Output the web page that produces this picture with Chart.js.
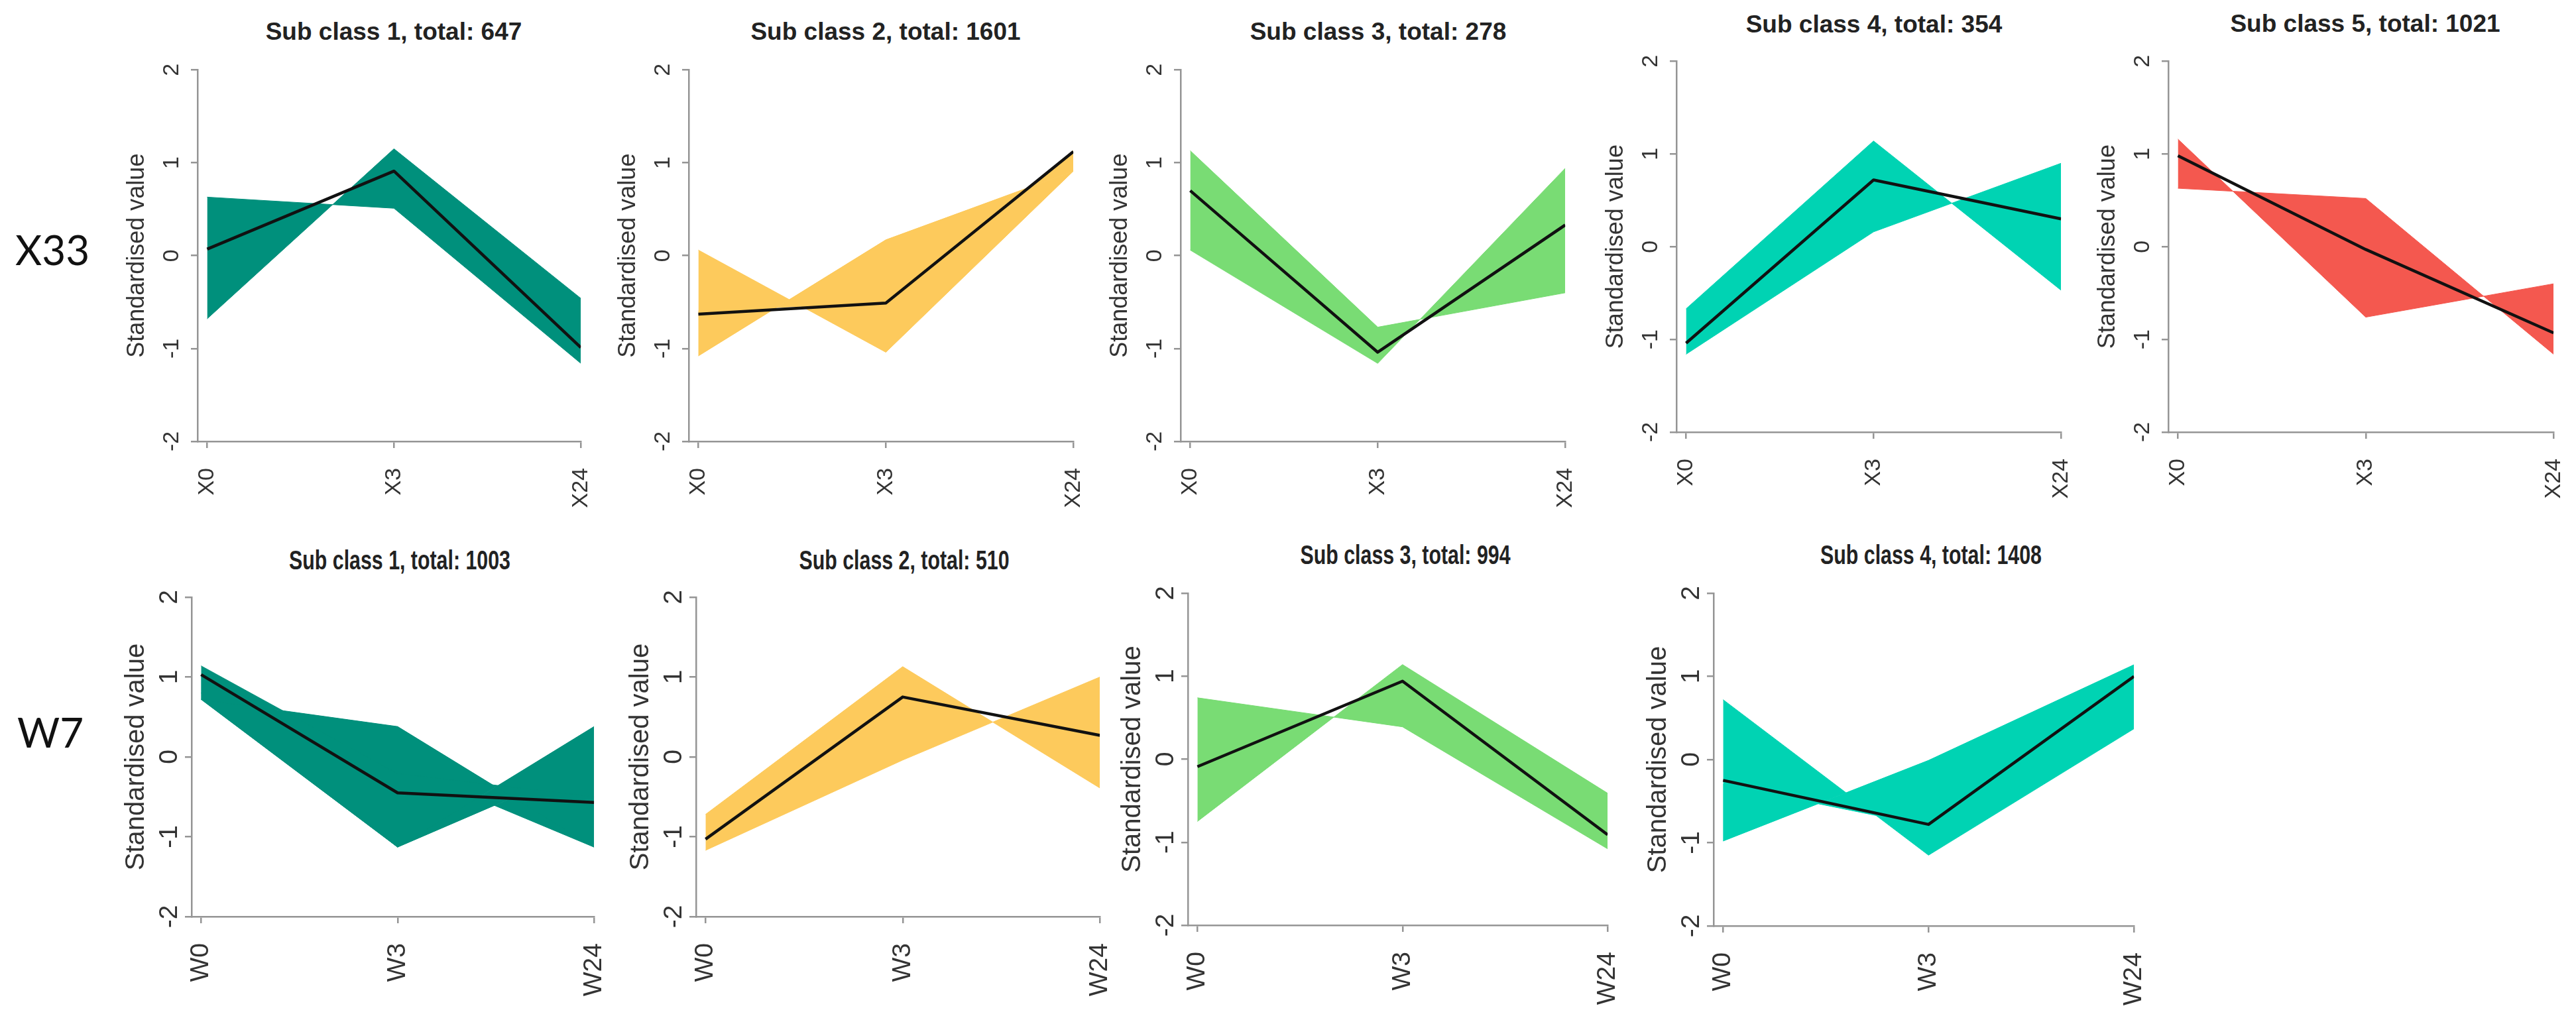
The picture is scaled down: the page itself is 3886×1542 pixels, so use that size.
<!DOCTYPE html>
<html>
<head>
<meta charset="utf-8">
<title>Sub class profiles</title>
<script src="https://cdn.jsdelivr.net/npm/chart.js@4.4.1/dist/chart.umd.min.js"></script>
<style>
  body { margin: 0; width: 3886px; height: 1542px; background: #fff; position: relative; overflow: hidden;
         font-family: "Liberation Sans", Arial, sans-serif; }
  canvas { position: absolute; }
  .title { position: absolute; font-weight: bold; color: #222; white-space: nowrap; line-height: 1; }
  .rowlab { position: absolute; font-family: Lato, "Open Sans", sans-serif; color: #111; line-height: 1; font-size: 62px; }
</style>
</head>
<body>
<script>
// ---- data ----
const x33Times = ['X0', 'X3', 'X24'];
const w7Times = ['W0', 'W3', 'W24'];
const yTicks = [-2, -1, 0, 1, 2];

const x33Totals = [647, 1601, 278, 354, 1021];
const w7Totals = [1003, 510, 994, 1408];

// centroid (black line) of each sub class
const x33Mean1 = [0.07, 0.91, -0.99];
const x33Mean2 = [-0.63, -0.51, 1.12];
const x33Mean3 = [0.70, -1.04, 0.33];
const x33Mean4 = [-1.04, 0.72, 0.30];
const x33Mean5 = [0.98, -0.03, -0.93];
const w7Mean1 = [1.03, -0.45, -0.57];
const w7Mean2 = [-1.03, 0.75, 0.27];
const w7Mean3 = [-0.09, 0.94, -0.91];
const w7Mean4 = [-0.25, -0.78, 1.00];

// extreme member profiles, the band is filled between them
const x33Edges1 = [[0.63, 0.51, -1.16], [-0.68, 1.15, -0.46]];
const x33Edges2 = [[0.06, -1.04, 0.91], [-1.08, 0.17, 0.91], [-0.60, -0.50, 1.13]];
const x33Edges3 = [[1.13, -0.77, -0.40], [0.06, -1.16, 0.94]];
const x33Edges4 = [[-0.67, 1.14, -0.47], [-1.16, 0.16, 0.90]];
const x33Edges5 = [[1.16, -0.76, -0.40], [0.63, 0.52, -1.16]];
const w7Edges1 = [[1.14, -0.21, -0.50], [0.72, 0.38, -1.13], [0.72, -1.13, 0.38], [0.80, -1.13, -0.07], [1.00, -0.10, -1.13]];
const w7Edges2 = [[-0.72, 1.13, -0.39], [-1.17, -0.04, 1.00]];
const w7Edges3 = [[0.74, 0.39, -1.08], [-0.75, 1.14, -0.41]];
const w7Edges4 = [[0.72, -1.15, 0.37], [-0.98, -0.01, 1.14], [-0.30, -0.80, 0.90]];

// ---- styles / layout ----
const bandColors = ['#00907c', '#fdca5c', '#79dc74', '#00d3b3', '#f4584f'];
const FONT = '"Liberation Sans", Arial, sans-serif';
const AXIS = '#959595';

const rows = [
  { times: x33Times, totals: x33Totals,
    means: [x33Mean1, x33Mean2, x33Mean3, x33Mean4, x33Mean5],
    edges: [x33Edges1, x33Edges2, x33Edges3, x33Edges4, x33Edges5],
    // axis line x, last tick x, top (2) y, bottom (-2) y
    boxes: [[298, 877, 102, 666], [1039, 1620, 102, 666], [1781, 2362, 102, 666], [2529, 3110, 89, 652], [3271, 3853, 89, 652]],
    titles: [[594, 47], [1336, 47], [2079, 47], [2827, 36], [3568, 35]],
    tickSize: 34, axisTitleSize: 36, titleSize: 37, squeeze: 1, yAxisW: 113, yPad: 13,
    label: 'X33', labelPos: [23, 376] },
  { times: w7Times, totals: w7Totals,
    means: [w7Mean1, w7Mean2, w7Mean3, w7Mean4],
    edges: [w7Edges1, w7Edges2, w7Edges3, w7Edges4],
    boxes: [[289, 903, 901, 1383], [1050, 1666, 901, 1383], [1792, 2432, 895, 1396], [2585, 3226, 895, 1397]],
    titles: [[603, 845], [1364, 845], [2120, 837], [2913, 837]],
    tickSize: 39, axisTitleSize: 40, titleSize: 41, squeeze: 0.74, yAxisW: 107, yPad: 5,
    label: 'W7', labelPos: [26, 1104] }
];

const PAD_TOP = 30, PAD_RIGHT = 70, X_AXIS_H = 140;

function toPoints(vals) {
  return vals.map((v, i) => ({ x: i, y: v }));
}

function addText(cls, text, css) {
  const d = document.createElement('div');
  d.className = cls;
  d.textContent = text;
  Object.assign(d.style, css);
  document.body.appendChild(d);
}

function drawPanel(row, k) {
  const [axisX, lastX, topY, botY] = row.boxes[k];
  const plotW = lastX - axisX, plotH = botY - topY;
  const firstGap = 14.5;
  const xMin = -2 * firstGap / (plotW - firstGap);
  const color = bandColors[k];

  const canvas = document.createElement('canvas');
  const cw = row.yAxisW + plotW + PAD_RIGHT;
  const ch = PAD_TOP + plotH + X_AXIS_H;
  canvas.width = cw; canvas.height = ch;
  canvas.style.width = cw + 'px'; canvas.style.height = ch + 'px';
  canvas.style.left = (axisX - row.yAxisW) + 'px';
  canvas.style.top = (topY - PAD_TOP) + 'px';
  document.body.appendChild(canvas);

  const datasets = [{
    data: toPoints(row.means[k]), borderColor: '#111', borderWidth: 4.5, fill: false
  }];
  row.edges[k].forEach((p, i) => {
    datasets.push({
      data: toPoints(p), borderColor: color, backgroundColor: color, borderWidth: 1,
      fill: i === 0 ? false : '-1'
    });
  });

  const tickFont = { family: FONT, size: row.tickSize };
  new Chart(canvas, {
    type: 'line',
    data: { datasets },
    options: {
      responsive: false, animation: false, devicePixelRatio: 1,
      layout: { padding: { top: PAD_TOP, right: PAD_RIGHT, left: 0, bottom: 0 } },
      plugins: { legend: { display: false }, tooltip: { enabled: false } },
      elements: { point: { radius: 0 }, line: { tension: 0, borderJoinStyle: 'round' } },
      scales: {
        x: {
          type: 'linear', min: xMin, max: 2,
          afterBuildTicks: s => { s.ticks = row.times.map((t, i) => ({ value: i })); },
          afterFit: s => { s.height = X_AXIS_H; },
          ticks: { autoSkip: false, minRotation: 90, maxRotation: 90, padding: 30, color: '#333',
                   font: tickFont, callback: v => row.times[v] },
          grid: { drawOnChartArea: false, drawTicks: true, tickLength: 10, color: AXIS, lineWidth: 2.5 },
          border: { display: true, color: AXIS, width: 2.5 }
        },
        y: {
          min: -2, max: 2,
          afterBuildTicks: s => { s.ticks = yTicks.map(v => ({ value: v })); },
          afterFit: s => { s.width = row.yAxisW; },
          ticks: { minRotation: 90, maxRotation: 90, crossAlign: 'center', padding: row.yPad,
                   color: '#333', font: tickFont },
          title: { display: true, text: 'Standardised value', color: '#333', padding: 0,
                   font: { family: FONT, size: row.axisTitleSize } },
          grid: { drawOnChartArea: false, drawTicks: true, tickLength: 10, color: AXIS, lineWidth: 2.5 },
          border: { display: true, color: AXIS, width: 2.5 }
        }
      }
    }
  });

  const [tx, ty] = row.titles[k];
  addText('title', 'Sub class ' + (k + 1) + ', total: ' + row.totals[k], {
    left: tx + 'px', top: ty + 'px', fontSize: row.titleSize + 'px',
    transform: 'translate(-50%, -50%) scaleX(' + row.squeeze + ')'
  });
}

rows.forEach(row => {
  row.means.forEach((m, k) => drawPanel(row, k));
  addText('rowlab', row.label, {
    left: row.labelPos[0] + 'px', top: row.labelPos[1] + 'px', transform: 'translateY(-50%)'
  });
});
</script>
</body>
</html>
